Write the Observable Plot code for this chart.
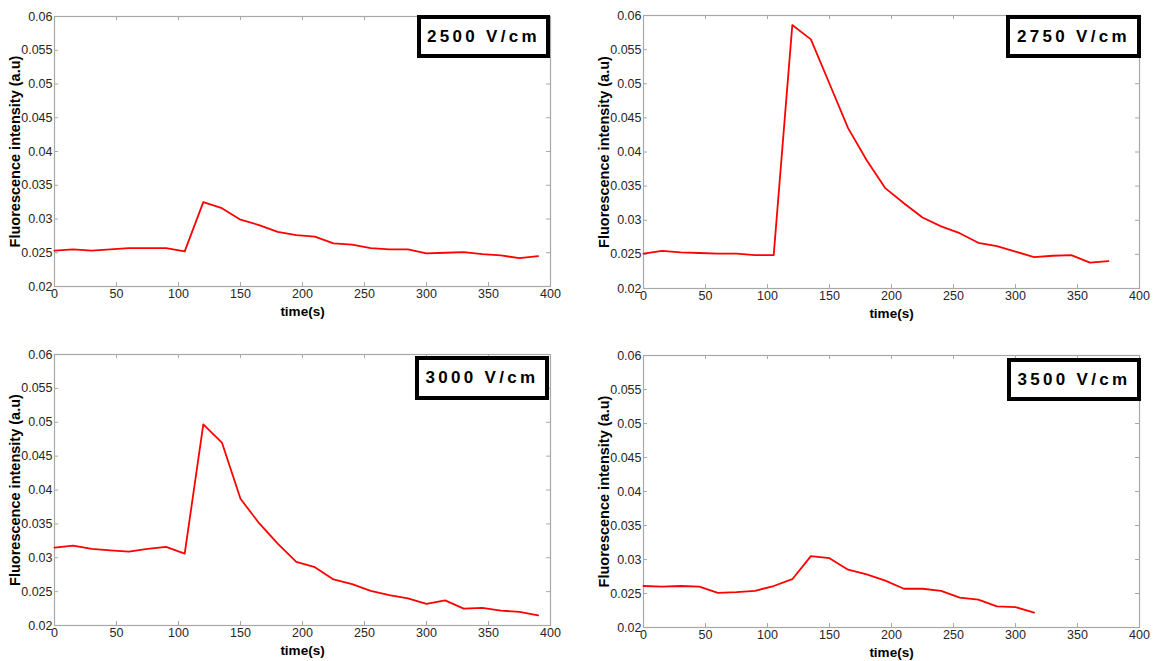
<!DOCTYPE html>
<html>
<head>
<meta charset="utf-8">
<script src="https://cdn.jsdelivr.net/npm/d3@7"></script>
<script src="https://cdn.jsdelivr.net/npm/@observablehq/plot@0.6"></script>
<style>
  html, body { margin: 0; padding: 0; background: #fff; }
  body { width: 1155px; height: 661px; position: relative; overflow: hidden; font-family: "Liberation Sans", Arial, sans-serif; }
  .panel { position: absolute; }
  .panel svg { font-family: "Liberation Sans", Arial, sans-serif; overflow: visible; }
  .panel g[aria-label="x-axis label"] { font-weight: bold; font-size: 13.5px; }
  .panel g[aria-label="y-axis label"] { font-weight: bold; font-size: 14.5px; }
  .panel g[aria-label="x-axis label"] text, .panel g[aria-label="y-axis label"] text { fill: #000; }
  .box { position: absolute; border: 4px solid #000; box-sizing: border-box; background: #fff;
         font-family: "Liberation Sans", Arial, sans-serif; font-weight: bold; font-size: 17px; letter-spacing: 3.3px;
         display: flex; align-items: center; justify-content: center; color: #000; }
</style>
</head>
<body>
<script>
// ---- data ----
const time = [0, 15, 30, 45, 60, 75, 90, 105, 120, 135, 150, 165, 180, 195, 210, 225, 240, 255, 270, 285, 300, 315, 330, 345, 360, 375, 390];
const series2500 = [0.0253, 0.0255, 0.0253, 0.0255, 0.0257, 0.0257, 0.0257, 0.0252, 0.0325, 0.0316, 0.0299, 0.0291, 0.0281, 0.0276, 0.0274, 0.0264, 0.0262, 0.0257, 0.0255, 0.0255, 0.0249, 0.0250, 0.0251, 0.0248, 0.0246, 0.0242, 0.0245];
const series2750 = [0.0251, 0.0255, 0.0253, 0.0252, 0.0251, 0.0251, 0.0249, 0.0249, 0.0586, 0.0565, 0.0500, 0.0435, 0.0388, 0.0347, 0.0325, 0.0304, 0.0291, 0.0281, 0.0267, 0.0262, 0.0254, 0.0246, 0.0248, 0.0249, 0.0238, 0.0240];
const series3000 = [0.0315, 0.0318, 0.0313, 0.0311, 0.0309, 0.0313, 0.0316, 0.0306, 0.0497, 0.0470, 0.0387, 0.0351, 0.0321, 0.0294, 0.0286, 0.0268, 0.0261, 0.0251, 0.0245, 0.0240, 0.0232, 0.0237, 0.0225, 0.0226, 0.0222, 0.0220, 0.0215];
const series3500 = [0.0261, 0.0260, 0.0261, 0.0260, 0.0251, 0.0252, 0.0254, 0.0261, 0.0271, 0.0305, 0.0302, 0.0285, 0.0278, 0.0269, 0.0257, 0.0257, 0.0254, 0.0244, 0.0241, 0.0231, 0.0230, 0.0222];
const panelLabels = ["2500 V/cm", "2750 V/cm", "3000 V/cm", "3500 V/cm"];
const xTicks = [0, 50, 100, 150, 200, 250, 300, 350, 400];
const yTicks = [0.02, 0.025, 0.03, 0.035, 0.04, 0.045, 0.05, 0.055, 0.06];
const xLabel = "time(s)";
const yLabel = "Fluorescence intensity (a.u)";

// ---- layout ----
const seriesList = [series2500, series2750, series3000, series3500];
const layout = [
  {left: 0,   top: 0,   width: 580, height: 330, mt: 16, mr: 30, mb: 44, ml: 54, box: {left: 417, top: 15, width: 133, height: 43}},
  {left: 590, top: 0,   width: 565, height: 330, mt: 15, mr: 16, mb: 42, ml: 53, box: {left: 1006, top: 15, width: 135, height: 43}},
  {left: 0,   top: 338, width: 580, height: 323, mt: 16, mr: 30, mb: 36, ml: 54, box: {left: 415, top: 356, width: 134, height: 44}},
  {left: 590, top: 338, width: 565, height: 323, mt: 17, mr: 16, mb: 34, ml: 53, box: {left: 1007, top: 358, width: 134, height: 43}}
];

layout.forEach((L, i) => {
  const data = seriesList[i].map((v, j) => ({t: time[j], v}));
  const innerW = L.width - L.ml - L.mr;
  const innerH = L.height - L.mt - L.mb;
  const tickColor = "#a8a8a8";
  const chart = Plot.plot({
    width: L.width,
    height: L.height,
    marginTop: L.mt, marginRight: L.mr, marginBottom: L.mb, marginLeft: L.ml,
    style: {fontFamily: "'Liberation Sans', Arial, sans-serif", background: "transparent"},
    x: {domain: [0, 400]},
    y: {domain: [0.02, 0.06]},
    marks: [
      Plot.frame({stroke: tickColor, strokeWidth: 1.2}),
      // inward tick marks on all four sides
      Plot.tickX(xTicks, {x: d => d, insetTop: innerH - 4, stroke: tickColor}),
      Plot.tickX(xTicks, {x: d => d, insetBottom: innerH - 4, stroke: tickColor}),
      Plot.tickY(yTicks, {y: d => d, insetRight: innerW - 4, stroke: tickColor}),
      Plot.tickY(yTicks, {y: d => d, insetLeft: innerW - 4, stroke: tickColor}),
      Plot.axisX(xTicks, {anchor: "bottom", tickSize: 0, tickPadding: 3, fontSize: 12.5, fill: "#262626",
        tickFormat: d => String(d), label: xLabel, labelAnchor: "center", labelOffset: 29, labelArrow: "none"}),
      Plot.axisY(yTicks, {anchor: "left", tickSize: 0, tickPadding: 2, fontSize: 12.5, fill: "#262626",
        tickFormat: d => String(d), label: yLabel, labelAnchor: "center", labelOffset: 45, labelArrow: "none"}),
      Plot.line(data, {x: "t", y: "v", stroke: "#ff0000", strokeWidth: 1.8})
    ]
  });
  const wrap = document.createElement("div");
  wrap.className = "panel";
  wrap.style.left = L.left + "px";
  wrap.style.top = L.top + "px";
  wrap.appendChild(chart);
  document.body.appendChild(wrap);

  const box = document.createElement("div");
  box.className = "box";
  box.style.left = L.box.left + "px";
  box.style.top = L.box.top + "px";
  box.style.width = L.box.width + "px";
  box.style.height = L.box.height + "px";
  box.textContent = panelLabels[i];
  document.body.appendChild(box);
});
</script>
</body>
</html>
